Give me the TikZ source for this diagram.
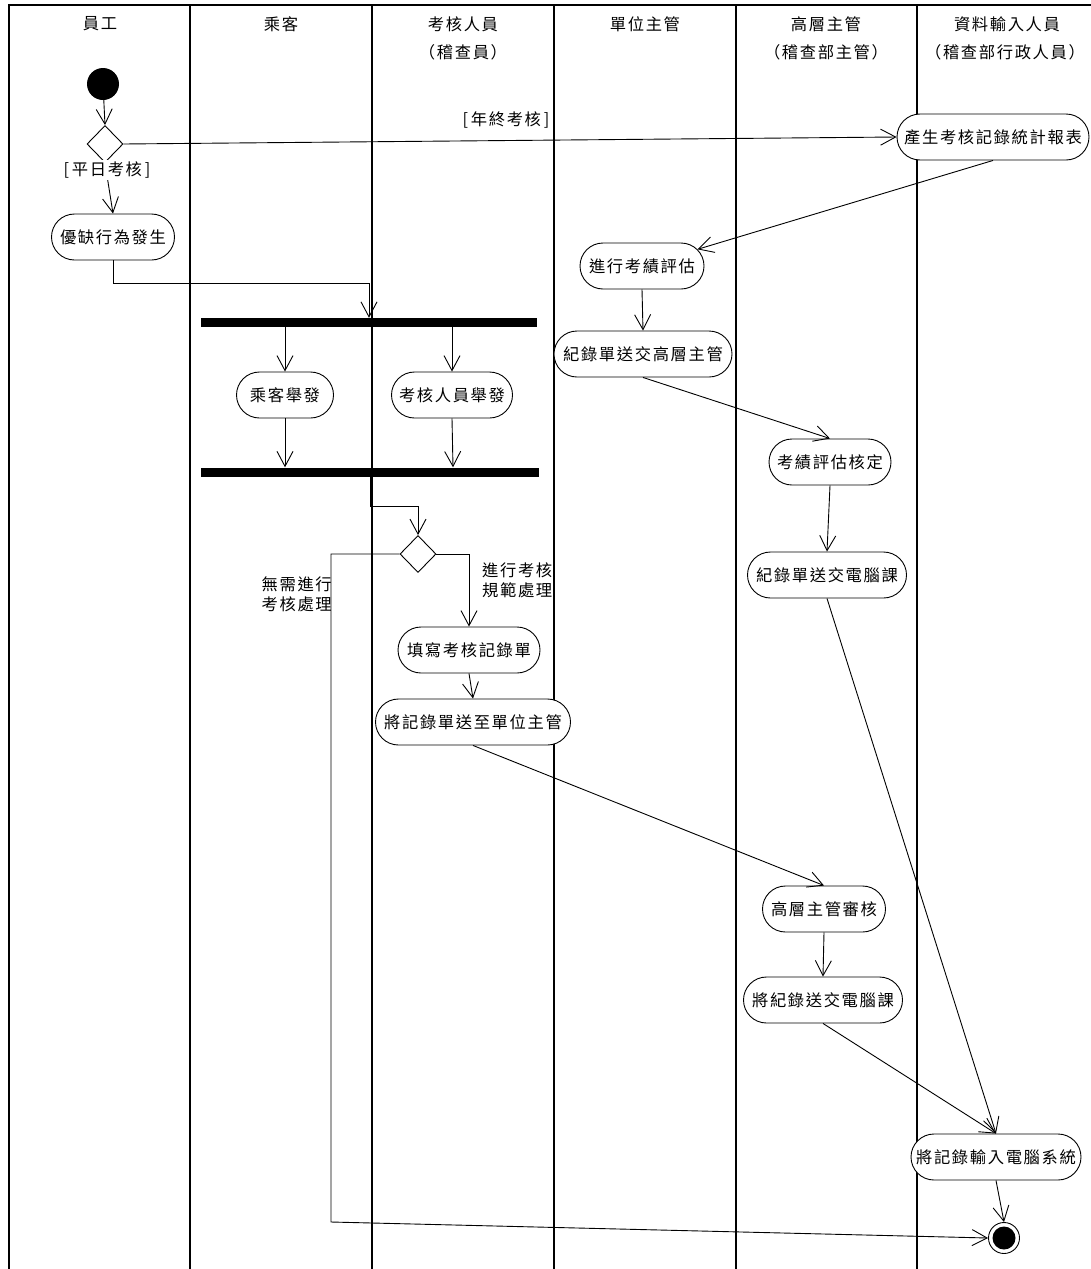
\documentclass[tikz,border=0pt]{standalone}
\usepackage{fontspec}
\setmainfont[LetterSpace=10]{Noto Sans CJK TC}
\usetikzlibrary{arrows.meta,shapes.geometric,shapes.misc}
\begin{document}
\begin{tikzpicture}[x=1pt,y=-1pt,
  every node/.style={font=\fontsize{16.3pt}{20pt}\selectfont},
  flow/.style={draw=black,line width=0.9pt},
  lane/.style={draw=black,line width=1.6pt},
  act/.style={rounded rectangle,draw=black,fill=white,line width=0.9pt,
              minimum height=46pt,inner xsep=1pt,inner ysep=0pt},
  choice/.style={diamond,draw=black,fill=white,line width=0.9pt,
                 minimum width=36pt,minimum height=37pt,inner sep=0pt},
  syncbar/.style={rectangle,fill=black,inner sep=0pt,minimum height=9pt},
  guard/.style={fill=white,inner sep=2pt},
  note/.style={inner sep=0pt,align=left},
  >={Straight Barb[length=15pt,width=16pt]}]
\useasboundingbox (0,0) rectangle (1091,1269);

% swimlane frame
\draw[lane] (9,1269) -- (9,5) -- (1091,5);
\foreach \lx in {190,372,554,736,917}
  \draw[lane] (\lx,5) -- (\lx,1269);

% lane headers
\node at (100,24) {員工};
\node at (281,24) {乘客};
\node at (463,24) {考核人員};
\node at (463,52) {（稽查員）};
\node at (645,24) {單位主管};
\node at (826,24) {高層主管};
\node at (826,52) {（稽查部主管）};
\node at (1007,24) {資料輸入人員};
\node at (1005,52) {（稽查部行政人員）};

% nodes
\node[circle,fill=black,minimum size=32pt,inner sep=0pt] (start) at (103,84) {};
\node[choice] (dia1) at (105,144) {};
\node[act,minimum width=125pt] (n1) at (113,237) {優缺行為發生};
\node[syncbar,minimum width=336pt] (bar1) at (369,322.5) {};
\node[act,minimum width=99pt] (p1) at (285,395) {乘客舉發};
\node[act,minimum width=123pt] (p2) at (452,395) {考核人員舉發};
\node[syncbar,minimum width=338pt] (bar2) at (370,472) {};
\node[choice] (dia2) at (418,554) {};
\node[act,minimum width=144pt] (f1) at (469,650) {填寫考核記錄單};
\node[act,minimum width=197pt] (f2) at (473,722) {將記錄單送至單位主管};
\node[act,minimum width=126pt] (u1) at (642,266) {進行考績評估};
\node[act,minimum width=180pt] (u2) at (643,354) {紀錄單送交高層主管};
\node[act,minimum width=124pt] (h1) at (830,462) {考績評估核定};
\node[act,minimum width=161pt] (h2) at (827,575) {紀錄單送交電腦課};
\node[act,minimum width=125pt] (h3) at (824,909) {高層主管審核};
\node[act,minimum width=161pt] (h4) at (823,1000) {將紀錄送交電腦課};
\node[act,minimum width=194pt] (d1) at (993,137) {產生考核記錄統計報表};
\node[act,minimum width=172pt] (d2) at (996,1157) {將記錄輸入電腦系統};
\node[circle,draw=black,fill=white,line width=0.9pt,minimum size=31pt,inner sep=0pt] (fin) at (1004,1238) {};
\fill[black] (fin.center) circle (11.5);

% junction points of the orthogonal connectors
\coordinate (j1) at (369,283);
\coordinate (j2) at (370,506);
\coordinate (j3) at (331,1222);

% connectors
\draw[flow,->] (start) -- (dia1.north);
\draw[flow,->] (dia1.east) -- (d1.west);
\draw[flow,->] (dia1.south) -- (n1.north);
\draw[flow,->] (n1.south) |- (j1) -- (j1 |- bar1.north);
\draw[flow,->] (bar1.south -| p1) -- (p1.north);
\draw[flow,->] (bar1.south -| p2) -- (p2.north);
\draw[flow,->] (p1.south) -- (p1.south |- bar2.north);
\draw[flow,->] (p2.south) -- ([xshift=1pt]p2.south |- bar2.north);
\draw[flow,->] (j2 |- bar2.south) -- (j2) -| (dia2.north);
\draw[flow,->] (dia2.west) -| (j3) -- (fin.west);
\draw[flow,->] (dia2.east) -| (f1.north);
\draw[flow,->] (f1.south) -- (f2.north);
\draw[flow,->] (f2.south) -- (h3.north);
\draw[flow,->] (h3.south) -- (h4.north);
\draw[flow,->] (h4.south) -- (d2.north);
\draw[flow,->] (d1.south) -- (u1);
\draw[flow,->] (u1.south) -- (u2.north);
\draw[flow,->] (u2.south) -- (h1.north);
\draw[flow,->] (h1.south) -- (h2.north);
\draw[flow,->] (h2.south) -- (d2.north);
\draw[flow,->] (d2.south) -- (fin.north);

% guard labels
\node[guard] (g1) at (107,170) {[\,平日考核\,]};
\node[guard] (g2) at (506,120) {[\,年終考核\,]};
\node[note,align=right,anchor=east] (g3) at (332,594) {無需進行\\考核處理};
\node[note,anchor=west] (g4) at (482,580) {進行考核\\規範處理};
\end{tikzpicture}
\end{document}
